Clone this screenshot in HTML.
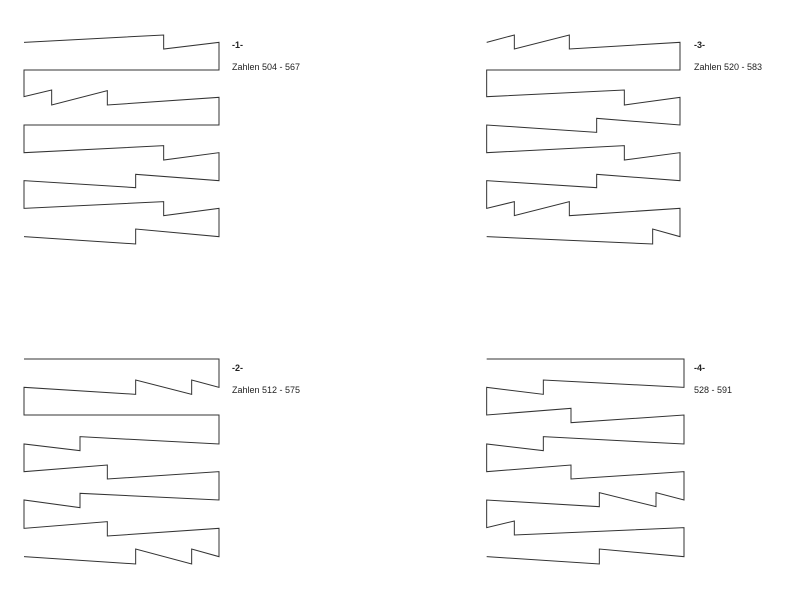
<!DOCTYPE html>
<html><head><meta charset="utf-8"><style>
html,body{margin:0;padding:0;background:#fff;width:787px;height:600px;overflow:hidden}
svg{display:block}
text{font-family:"Liberation Sans",sans-serif;font-size:9px;fill:#222}
.b{font-weight:bold}
polyline{fill:none;stroke:#333;stroke-width:3;stroke-linejoin:miter}
</style></head><body>
<svg width="787" height="600" viewBox="0 0 787 600">
<g transform="translate(15,25) scale(0.33333)">
<polyline points="27,52 446,30 446,72 612,52 612,135 27,135 27,215 110,195 110,240 277,197 277,240 612,217 612,300 27,300 27,383 446,362 446,405 612,383 612,467 362,448 362,488 27,467 27,550 446,530 446,572 612,550 612,635 362,612 362,657 27,635"/>
</g>
<g transform="translate(15,345) scale(0.33333)">
<polyline points="27,42 612,42 612,127 530,105 530,148 362,105 362,148 27,127 27,210 612,210 612,297 195,275 195,317 27,297 27,380 277,360 277,402 612,380 612,465 195,445 195,488 27,465 27,550 277,530 277,573 612,550 612,635 530,612 530,657 362,612 362,657 27,635"/>
</g>
<g transform="translate(480,25) scale(0.33333)">
<polyline points="20,52 103,30 103,72 268,30 268,72 600,52 600,135 20,135 20,215 433,195 433,240 600,217 600,300 350,280 350,322 20,300 20,383 433,362 433,405 600,383 600,467 350,448 350,488 20,467 20,550 103,530 103,572 268,530 268,572 600,550 600,635 518,612 518,657 20,635"/>
</g>
<g transform="translate(480,345) scale(0.33333)">
<polyline points="20,42 612,42 612,127 190,105 190,148 20,127 20,210 273,190 273,233 612,210 612,297 190,275 190,317 20,297 20,380 273,360 273,402 612,380 612,465 528,443 528,485 358,443 358,485 20,465 20,548 103,528 103,570 612,548 612,635 358,612 358,657 20,635"/>
</g>
<text class="b" x="232" y="48">-1-</text>
<text x="232" y="70">Zahlen 504 - 567</text>
<text class="b" x="694" y="48">-3-</text>
<text x="694" y="70">Zahlen 520 - 583</text>
<text class="b" x="232" y="371">-2-</text>
<text x="232" y="393">Zahlen 512 - 575</text>
<text class="b" x="694" y="371">-4-</text>
<text x="694" y="393">528 - 591</text>
</svg>
</body></html>
